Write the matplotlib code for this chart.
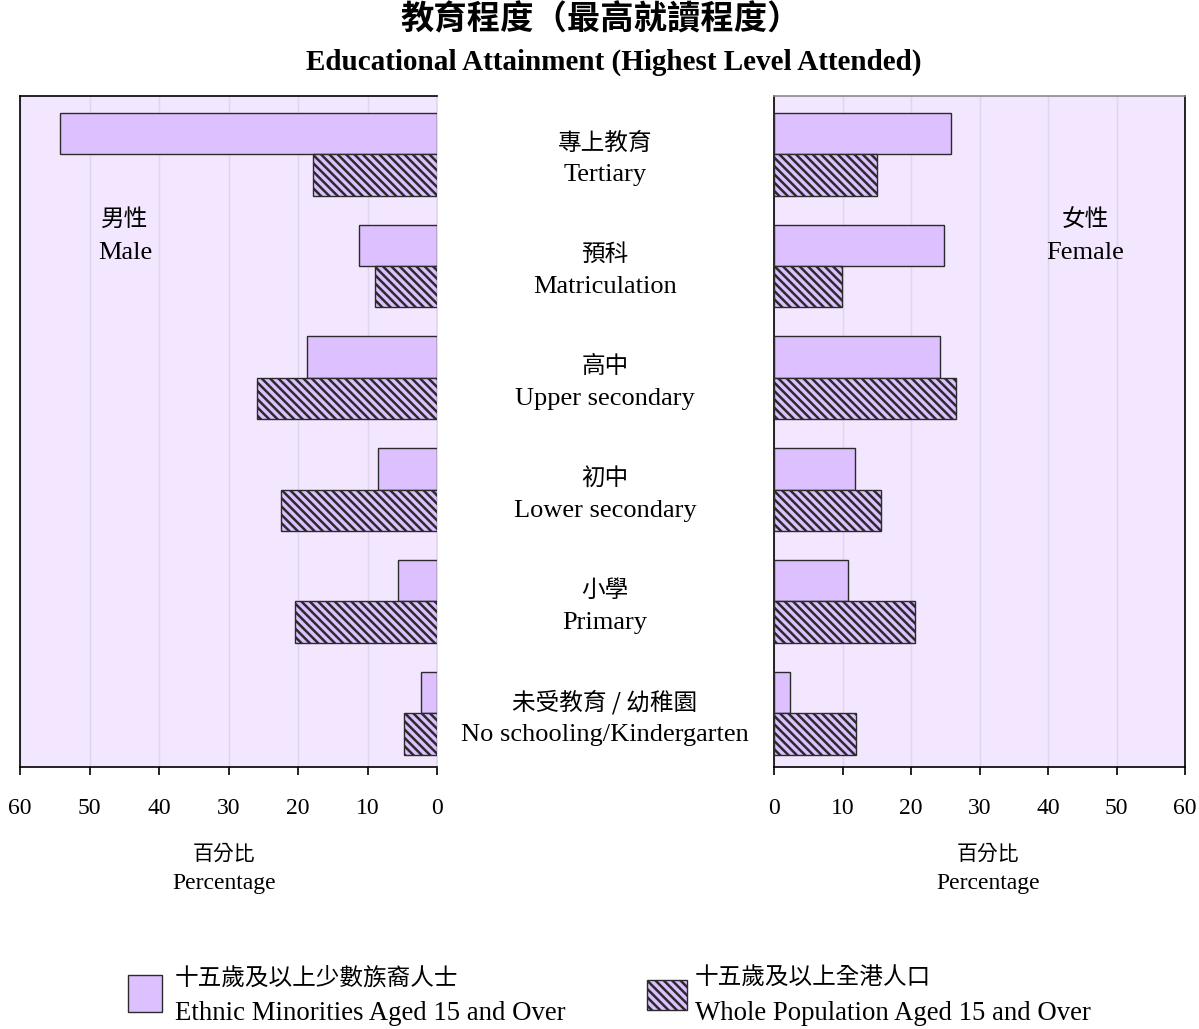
import numpy as np
import matplotlib
matplotlib.use("Agg")
import matplotlib.pyplot as plt
import matplotlib.transforms as mtransforms
from matplotlib.patches import Rectangle

# ============================================================================
# DATA
# ============================================================================

cat_zh = ["專上教育", "預科", "高中", "初中", "小學", "未受教育 / 幼稚園"]
cat_en = ["Tertiary", "Matriculation", "Upper secondary", "Lower secondary",
          "Primary", "No schooling/Kindergarten"]

male_em = [54.2, 11.2, 18.7, 8.5, 5.6, 2.3]
male_all = [17.8, 8.9, 25.9, 22.4, 20.4, 4.7]
female_em = [25.8, 24.8, 24.2, 11.8, 10.8, 2.3]
female_all = [15.0, 9.9, 26.6, 15.6, 20.6, 12.0]

ticks = [0, 10, 20, 30, 40, 50, 60]

# ============================================================================
# STYLE
# ============================================================================

CJK = "Noto Sans CJK TC"
SERIF = "Liberation Serif"
plt.rcParams["hatch.linewidth"] = 1.8
plt.rcParams["hatch.color"] = "#1a1a1a"

bg_color = "#F3E6FF"
bar_color = "#DDC0FF"
edge_color = "#2b2b2b"
grid_color = "#DED6EE"
HATCH = "\\\\\\\\"

W, H = 1199, 1029
fig = plt.figure(figsize=(W / 100, H / 100), dpi=100)

axL = fig.add_axes([20 / W, 1 - 767 / H, 417 / W, 671 / H])
axR = fig.add_axes([774 / W, 1 - 767 / H, 411 / W, 671 / H])

y = np.arange(len(cat_en))
bh = 0.37

for ax, em, allp in [(axL, male_em, male_all), (axR, female_em, female_all)]:
    ax.set_facecolor(bg_color)
    ax.barh(y - bh / 2, em, height=bh, color=bar_color, edgecolor=edge_color,
            linewidth=1.0, zorder=3)
    ax.barh(y + bh / 2, allp, height=bh, color=bar_color, edgecolor=edge_color,
            linewidth=1.0, hatch=HATCH, zorder=3)
    ax.set_xlim(0, 60)
    ax.set_ylim(5.48, -0.52)
    ax.set_xticks(ticks)
    ax.set_xticklabels([str(t) for t in ticks], fontfamily=SERIF, fontsize=17)
    ax.set_yticks([])
    ax.xaxis.grid(True, color=grid_color, linewidth=1.0, zorder=0)
    ax.set_axisbelow(True)
    ax.tick_params(axis="x", direction="out", length=6, width=1.2, pad=16, colors="black")
    for s in ax.spines.values():
        s.set_linewidth(1.2)
        s.set_color("black")

axL.invert_xaxis()
axL.spines["right"].set_color("#E2D4F2")
axR.spines["top"].set_color("#8a8a8a")

# gender labels
axL.text(44.9, 0.58, "男性", fontfamily=CJK, fontsize=17, ha="center", va="center")
axL.text(44.9, 0.88, "Male", fontfamily=SERIF, fontsize=19, ha="center", va="center")
axR.text(45.4, 0.58, "女性", fontfamily=CJK, fontsize=17, ha="center", va="center")
axR.text(45.4, 0.88, "Female", fontfamily=SERIF, fontsize=19, ha="center", va="center")

# category labels in the middle
trans = mtransforms.blended_transform_factory(fig.transFigure, axL.transData)
for i in range(len(cat_en)):
    fig.text(605 / W, y[i] - 0.10, cat_zh[i], fontfamily=CJK, fontsize=17,
             ha="center", va="center", transform=trans)
    fig.text(605 / W, y[i] + 0.19, cat_en[i], fontfamily=SERIF, fontsize=19,
             ha="center", va="center", transform=trans)

# axis titles
for xc in (224 / W, 988 / W):
    fig.text(xc, 1 - 854 / H, "百分比", fontfamily=CJK, fontsize=15, ha="center", va="center")
    fig.text(xc, 1 - 883 / H, "Percentage", fontfamily=SERIF, fontsize=17, ha="center", va="center")

# main title
fig.text(601 / W, 1 - 20 / H, "教育程度（最高就讀程度）", fontfamily=CJK, fontweight="bold",
         fontsize=24, ha="center", va="center")
fig.text(614 / W, 1 - 62 / H, "Educational Attainment (Highest Level Attended)",
         fontfamily=SERIF, fontweight="bold", fontsize=21, ha="center", va="center")

# legend
fig.patches.append(Rectangle((128 / W, 1 - 1012 / H), 34 / W, 37 / H, transform=fig.transFigure,
                             facecolor=bar_color, edgecolor=edge_color, linewidth=1.0))
fig.patches.append(Rectangle((647 / W, 1 - 1010 / H), 40 / W, 30 / H, transform=fig.transFigure,
                             facecolor=bar_color, edgecolor=edge_color, linewidth=1.0,
                             hatch=HATCH))
fig.text(175 / W, 1 - 978 / H, "十五歲及以上少數族裔人士", fontfamily=CJK, fontsize=17, va="center")
fig.text(175 / W, 1 - 1013 / H, "Ethnic Minorities Aged 15 and Over", fontfamily=SERIF,
         fontsize=19.3, va="center")
fig.text(695 / W, 1 - 978 / H, "十五歲及以上全港人口", fontfamily=CJK, fontsize=17, va="center")
fig.text(695 / W, 1 - 1013 / H, "Whole Population Aged 15 and Over", fontfamily=SERIF,
         fontsize=19.3, va="center")

fig.savefig("out.png", dpi=100)
